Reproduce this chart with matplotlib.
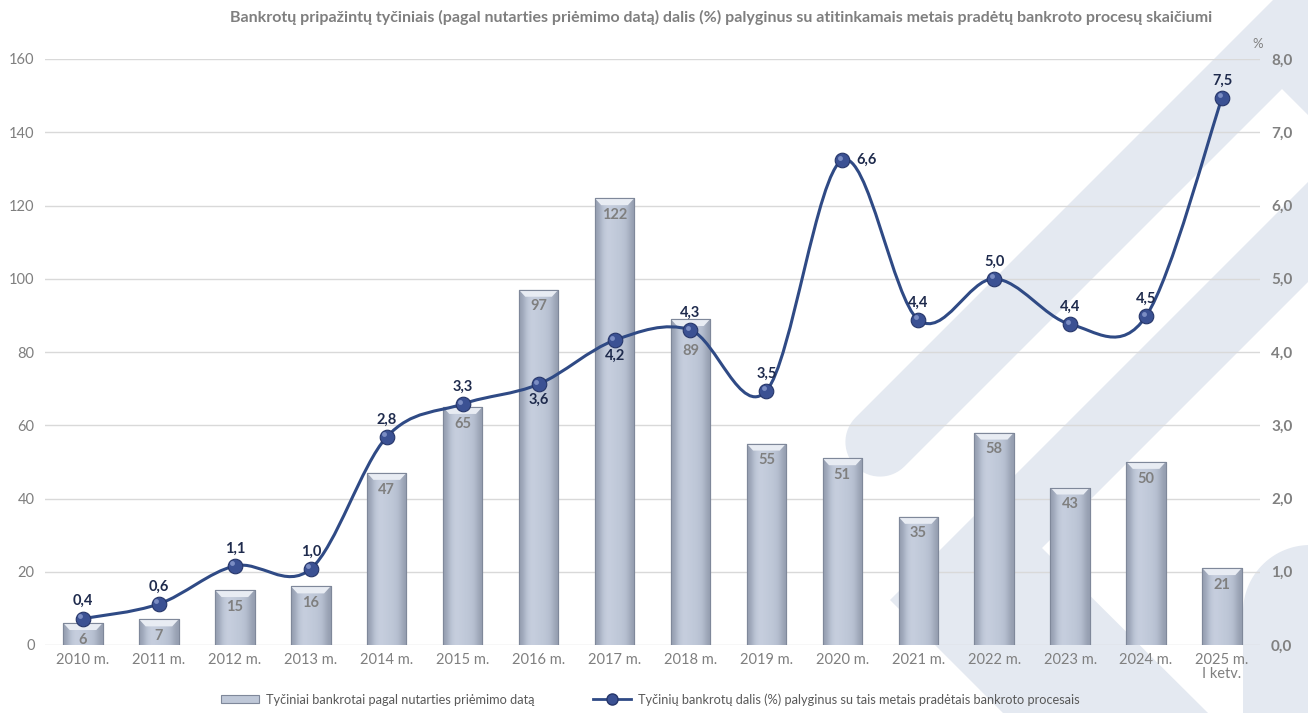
import numpy as np
import matplotlib
matplotlib.use('Agg')
import matplotlib.pyplot as plt
from matplotlib.patches import Polygon, PathPatch, Patch
from matplotlib.lines import Line2D
from matplotlib.path import Path
import matplotlib.transforms as mtransforms
from matplotlib.colors import to_rgb

plt.rcParams['font.family'] = ['Lato', 'DejaVu Sans']

# ---------------- data ----------------
categories = ['2010 m.', '2011 m.', '2012 m.', '2013 m.', '2014 m.', '2015 m.',
              '2016 m.', '2017 m.', '2018 m.', '2019 m.', '2020 m.', '2021 m.',
              '2022 m.', '2023 m.', '2024 m.', '2025 m.\nI ketv.']
cases = [6, 7, 15, 16, 47, 65, 97, 122, 89, 55, 51, 35, 58, 43, 50, 21]
share = [0.36, 0.56, 1.08, 1.04, 2.84, 3.29, 3.56, 4.16, 4.30, 3.47,
         6.62, 4.44, 5.00, 4.38, 4.49, 7.47]
share_label_pos = ['above', 'above', 'above', 'above', 'above', 'above',
                   'below', 'below', 'above', 'above', 'right', 'above',
                   'above', 'above', 'above', 'above']
left_ticks = [0, 20, 40, 60, 80, 100, 120, 140, 160]
right_ticks = [0, 1, 2, 3, 4, 5, 6, 7, 8]
title = ('Bankrotų pripažintų tyčiniais (pagal nutarties priėmimo datą) dalis (%) '
         'palyginus su atitinkamais metais pradėtų bankroto procesų skaičiumi')
bar_name = 'Tyčiniai bankrotai pagal nutarties priėmimo datą'
line_name = 'Tyčinių bankrotų dalis (%) palyginus su tais metais pradėtais bankroto procesais'

# label offsets (points) for bar labels; the 2018 label was moved below the marker
bar_label_offset = {8: -23}

# ---------------- figure ----------------
W, H = 1308, 713
fig = plt.figure(figsize=(W / 100, H / 100), dpi=100)
fig.patch.set_facecolor('white')

def px(pts):
    return [(x / W, 1 - y / H) for x, y in pts]

wm = '#e4e9f1'
cx, cy, r = 880, 442, 34.6
arc = [(cx + r * np.cos(t), cy + r * np.sin(t)) for t in np.linspace(np.pi / 4, 5 * np.pi / 4, 30)]
bandA = [(1273, 0), (1308, 0), (1308, 115), (1282, 89)] + arc
bandB = [(1308, 182), (1308, 282), (1042, 548), (1208, 713), (1003, 713), (890, 600)]
ccx, ccy, rr = 1310, 612, 67
arc2 = [(ccx + rr * np.cos(t), ccy + rr * np.sin(t)) for t in np.linspace(np.pi, 1.5 * np.pi, 30)]
block = [(1243, 713)] + arc2 + [(1308, 545), (1308, 713)]
for shape in (bandA, bandB, block):
    fig.patches.append(Polygon(px(shape), closed=True, transform=fig.transFigure,
                               facecolor=wm, edgecolor='none', zorder=-10))

ax = fig.add_axes([45 / W, 1 - 645 / H, 1215 / W, 586 / H])
ax.patch.set_visible(False)
x = np.arange(len(categories))

# bars
bar_edge = '#7f889a'
bars = ax.bar(x, cases, width=0.52, color='#bfc8d8', edgecolor=bar_edge,
              linewidth=0.8, zorder=2)
grad_cols = ['#959eb0', '#bac3d4', '#c8d0df', '#c4ccdc', '#c0c9d9', '#bcc5d6', '#b2bbcc', '#959eb0']
grad = np.array([[to_rgb(c) for c in grad_cols]])
for i, b in enumerate(bars):
    x0, w, h = b.get_x(), b.get_width(), b.get_height()
    im = ax.imshow(grad, extent=(x0, x0 + w, 0, h), aspect='auto',
                   interpolation='bicubic', zorder=2.1)
    im.set_clip_path(b)
    d = 0.085
    e = 7 / 586 * 160
    ax.add_patch(Polygon([(x0, h), (x0 + w, h), (x0 + w - d, h - e), (x0 + d, h - e)],
                         closed=True, facecolor='#e8ecf3', edgecolor='none', zorder=2.2))
    ax.plot([x0, x0, x0 + w, x0 + w], [0, h, h, 0], color=bar_edge, lw=0.8, zorder=2.3)
    ax.annotate(f'{int(h)}', (x0 + w / 2, h), xytext=(0, bar_label_offset.get(i, -12)),
                textcoords='offset points', ha='center', va='center', fontsize=10.5,
                fontweight='bold', color='#7f7f7f', zorder=3)

ax.set_xlim(-0.5, len(categories) - 0.5)
ax.set_ylim(0, 160)
ax.set_yticks(left_ticks)
ax.set_yticklabels([str(t) for t in left_ticks])
ax.set_xticks(x)
ax.set_xticklabels(categories, linespacing=1.0)
ax.tick_params(axis='both', length=0, colors='#7f7f7f', labelsize=10.5)
ax.tick_params(axis='y', pad=7.5)
ax.tick_params(axis='x', pad=6)
for s in ax.spines.values():
    s.set_visible(False)
ax.grid(axis='y', color='#d9d9d9', lw=1.0, zorder=1)
ax.set_axisbelow(True)

# line on secondary axis
ax2 = ax.twinx()
ax2.patch.set_visible(False)
ax2.set_ylim(0, 8)
ax2.set_yticks(right_ticks)
ax2.set_yticklabels([f'{t:.1f}'.replace('.', ',') for t in right_ticks])
ax2.tick_params(axis='y', length=0, colors='#808080', labelsize=11, pad=8)
for lab in ax2.get_yticklabels():
    lab.set_fontweight('bold')
for s in ax2.spines.values():
    s.set_visible(False)

pts = np.column_stack([x, share]).astype(float)
verts = [tuple(pts[0])]
codes = [Path.MOVETO]
n = len(pts)
for i in range(n - 1):
    p0 = pts[i - 1] if i > 0 else pts[i]
    p1, p2 = pts[i], pts[i + 1]
    p3 = pts[i + 2] if i + 2 < n else pts[i + 1]
    c1 = p1 + (p2 - p0) / 6.0
    c2 = p2 - (p3 - p1) / 6.0
    verts += [tuple(c1), tuple(c2), tuple(p2)]
    codes += [Path.CURVE4] * 3
line_color = '#2f4a85'
ax2.add_patch(PathPatch(Path(verts, codes), facecolor='none', edgecolor=line_color,
                        lw=2.2, zorder=4, capstyle='round'))
ax2.plot(x, share, 'o', ms=10.5, mfc='#3b5193', mec='#26366a', mew=0.8, zorder=5)
hl = mtransforms.offset_copy(ax2.transData, fig=fig, x=-1.8, y=1.8, units='points')
ax2.plot(x, share, 'o', ms=3.5, mfc='#8c9dd0', mec='none', alpha=0.8, zorder=6, transform=hl)

for xi, v, pos in zip(x, share, share_label_pos):
    txt = f'{v:.1f}'.replace('.', ',')
    if pos == 'above':
        off, ha, va = (0, 12.5), 'center', 'center'
    elif pos == 'below':
        off, ha, va = (0, -11.5), 'center', 'center'
    else:
        off, ha, va = (10, 0), 'left', 'center'
    ax2.annotate(txt, (xi, v), xytext=off, textcoords='offset points', ha=ha, va=va,
                 fontsize=10.5, fontweight='bold', color='#1f2b4d', zorder=7)

# title and % label
fig.text(721 / W, 1 - 17 / H, title, ha='center', va='center', fontsize=11.5,
         fontweight='bold', color='#7f7f7f')
fig.text(1258 / W, 1 - 44 / H, '%', ha='center', va='center', fontsize=9.5, color='#808080')

# legend
handles = [Patch(facecolor='#bfc8d8', edgecolor=bar_edge, lw=0.8),
           Line2D([], [], color=line_color, lw=2, marker='o', ms=8,
                  mfc='#3b5193', mec='#26366a')]
leg = fig.legend(handles, [bar_name, line_name], loc='lower center',
                 bbox_to_anchor=(0.497, -0.006), ncol=2, frameon=False,
                 fontsize=9.2, labelcolor='#595959', columnspacing=4.6,
                 handlelength=3.0, handleheight=0.6, handletextpad=0.5)

fig.savefig('out.png', dpi=100, facecolor='white')
